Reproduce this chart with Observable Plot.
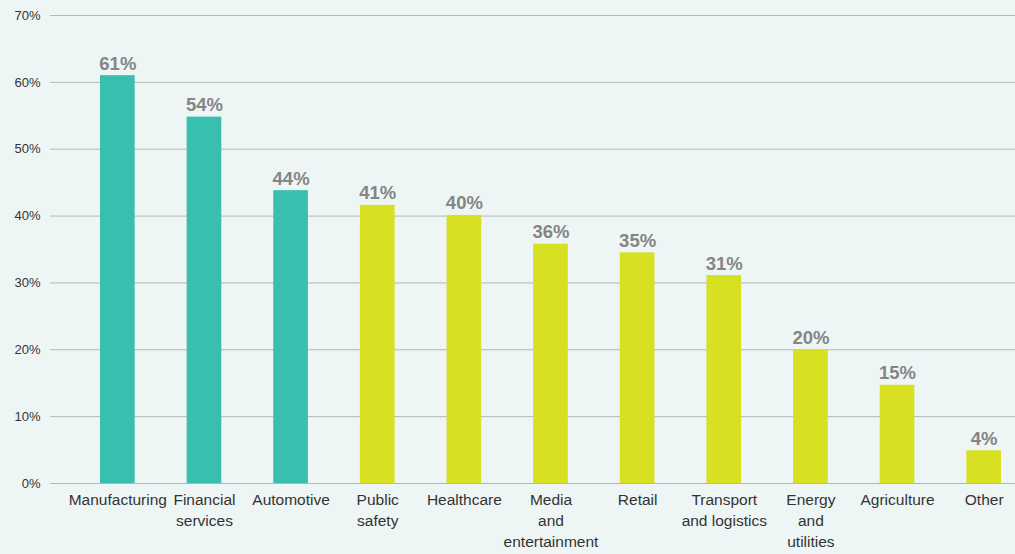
<!DOCTYPE html>
<html>
<head>
<meta charset="utf-8">
<script src="https://cdn.jsdelivr.net/npm/d3@7"></script>
<script src="https://cdn.jsdelivr.net/npm/@observablehq/plot@0.6"></script>
<style>
  html, body { margin: 0; padding: 0; background: #EEF6F5; }
  #chart svg { display: block; }
</style>
</head>
<body>
<div id="chart"></div>
<script>
const categories = ["Manufacturing", "Financial\nservices", "Automotive", "Public\nsafety", "Healthcare", "Media\nand\nentertainment", "Retail", "Transport\nand logistics", "Energy\nand\nutilities", "Agriculture", "Other"];
const values = [61, 54.8, 43.8, 41.6, 40.1, 35.8, 34.5, 31.1, 20.0, 14.7, 4.9];
const valueLabels = ["61%", "54%", "44%", "41%", "40%", "36%", "35%", "31%", "20%", "15%", "4%"];
const groups = ["top", "top", "top", "rest", "rest", "rest", "rest", "rest", "rest", "rest", "rest"];
const yTicks = [0, 10, 20, 30, 40, 50, 60, 70];

const data = categories.map((c, i) => ({category: c, value: values[i], label: valueLabels[i], group: groups[i]}));

const chart = Plot.plot({
  width: 1015,
  height: 554,
  marginTop: 15,
  marginBottom: 71,
  marginLeft: 50,
  marginRight: 0,
  style: {background: "#EEF6F5", fontFamily: "'Liberation Sans', Arial, sans-serif"},
  x: {domain: categories, range: [74, 1027], paddingInner: 0.6, paddingOuter: 0.3, round: false},
  y: {domain: [0, 70]},
  color: {domain: ["top", "rest"], range: ["#38BFAF", "#D7E021"]},
  marks: [
    Plot.ruleY(yTicks, {stroke: "#B3B7B7", strokeWidth: 1}),
    Plot.barY(data, {x: "category", y: "value", fill: "group"}),
    Plot.text(data, {x: "category", y: "value", text: "label", lineAnchor: "bottom", dy: -6, fontSize: 18.5, fontWeight: "bold", fill: "#858585"}),
    Plot.axisY(yTicks, {tickSize: 0, tickPadding: 10, tickFormat: d => d + "%", fontSize: 13, fill: "#333", label: null}),
    Plot.axisX({tickSize: 0, tickPadding: 6, fontSize: 15.5, fill: "#333", lineHeight: 1.38, label: null})
  ]
});
document.getElementById("chart").appendChild(chart);
</script>
</body>
</html>
